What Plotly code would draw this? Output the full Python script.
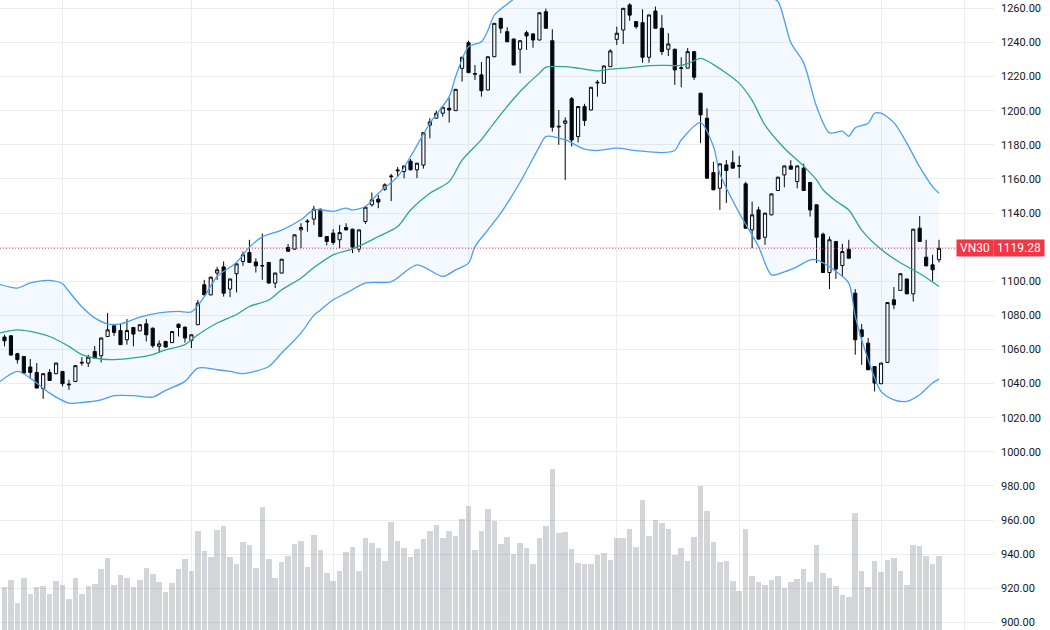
import plotly.graph_objects as go

# ---------------- data ----------------
idx = list(range(146))

opens = [1067.3,1068.0,1057.5,1055.9,1049.7,1046.5,1037.0,1046.5,1045.8,1047.1,
         1039.2,1041.2,1052.0,1052.0,1058.8,1056.3,1067.6,1073.9,1071.1,1065.7,
         1072.9,1070.9,1075.0,1072.5,1061.8,1064.7,1064.0,1074.8,1073.1,1065.3,
         1074.5,1097.9,1092.0,1104.8,1108.4,1095.4,1104.4,1111.6,1116.8,1111.3,
         1109.2,1111.0,1098.9,1104.8,1119.8,1118.8,1130.1,1134.8,1136.4,1142.2,
         1126.2,1128.2,1124.3,1131.5,1130.5,1118.8,1135.0,1144.8,1148.1,1153.9,
         1161.2,1164.7,1164.3,1170.4,1165.3,1168.1,1191.5,1195.6,1198.5,1201.4,
         1200.0,1224.8,1239.8,1221.3,1221.0,1212.1,1231.6,1254.1,1246.3,1242.0,
         1236.0,1245.7,1245.0,1241.4,1258.0,1241.0,1190.4,1192.6,1207.0,1184.8,
         1202.4,1200.4,1216.2,1216.1,1225.8,1241.8,1247.3,1262.0,1252.2,1251.6,
         1231.3,1258.4,1248.3,1236.0,1236.0,1224.7,1224.9,1234.6,1210.2,1195.6,
         1163.7,1154.5,1168.2,1169.5,1167.4,1157.1,1130.1,1141.8,1125.8,1138.9,
         1153.2,1162.3,1167.6,1158.4,1166.3,1157.9,1144.8,1127.6,1105.1,1123.3,
         1109.2,1118.8,1093.0,1071.5,1063.7,1050.0,1039.9,1052.4,1089.1,1094.6,
         1101.3,1092.6,1131.1,1114.1,1109.6,1112.6]
highs = [1068.6,1068.5,1058.0,1056.2,1054.4,1052.0,1046.0,1048.5,1052.2,1047.4,
         1042.2,1050.7,1055.5,1056.9,1062.0,1067.0,1081.3,1074.2,1075.0,1077.8,
         1073.2,1074.8,1077.8,1072.8,1065.3,1065.0,1070.8,1075.2,1073.4,1068.8,
         1089.0,1100.8,1102.6,1108.4,1111.6,1101.5,1110.4,1117.4,1124.3,1113.5,
         1128.0,1111.3,1105.0,1113.1,1121.8,1127.4,1134.0,1136.4,1144.2,1142.5,
         1126.5,1130.5,1133.0,1134.0,1130.8,1130.3,1143.6,1152.0,1150.6,1157.4,
         1162.9,1166.9,1167.8,1171.6,1169.4,1187.3,1195.6,1200.0,1202.2,1207.3,
         1212.7,1231.5,1241.0,1226.8,1228.5,1231.8,1251.4,1254.4,1248.9,1242.3,
         1241.2,1246.9,1245.3,1257.6,1259.8,1247.7,1200.4,1196.1,1208.0,1202.6,
         1204.0,1213.9,1218.0,1226.4,1236.0,1249.2,1260.2,1263.0,1252.5,1259.4,
         1256.3,1261.0,1256.1,1245.4,1236.3,1231.3,1236.7,1234.9,1210.5,1201.4,
         1170.0,1169.0,1171.1,1176.6,1173.5,1158.3,1146.7,1143.7,1140.1,1151.4,
         1161.2,1167.8,1171.0,1167.8,1168.9,1158.2,1145.0,1128.5,1126.2,1123.6,
         1121.9,1124.3,1095.4,1075.0,1066.7,1050.3,1052.2,1087.7,1096.6,1104.6,
         1101.6,1130.7,1138.3,1124.3,1115.5,1124.3]
lows = [1061.8,1056.5,1051.7,1046.0,1042.7,1037.2,1031.0,1041.5,1045.5,1038.3,
        1036.3,1041.0,1050.5,1049.7,1054.8,1052.4,1067.4,1068.0,1062.6,1062.8,
        1061.8,1070.7,1064.7,1061.0,1058.3,1061.2,1063.8,1067.6,1064.0,1060.8,
        1074.3,1091.8,1091.8,1100.8,1091.0,1090.7,1093.4,1109.0,1110.8,1105.1,
        1100.8,1098.7,1096.0,1104.6,1117.3,1118.6,1119.4,1129.1,1133.0,1126.0,
        1121.0,1121.3,1119.4,1129.8,1116.5,1117.0,1133.6,1143.8,1142.8,1153.0,
        1147.0,1161.3,1160.4,1165.0,1160.4,1166.0,1183.8,1195.4,1196.5,1193.0,
        1199.8,1217.0,1222.0,1218.0,1208.2,1211.9,1231.4,1245.4,1240.2,1226.6,
        1221.9,1235.6,1236.9,1241.2,1248.1,1187.7,1180.0,1159.4,1179.0,1181.3,
        1191.0,1200.2,1208.2,1215.9,1225.6,1238.5,1239.1,1252.7,1248.0,1228.1,
        1228.1,1248.1,1232.6,1232.0,1215.1,1213.7,1224.7,1218.0,1180.9,1160.2,
        1153.4,1141.8,1145.8,1166.1,1160.4,1130.9,1119.4,1124.5,1121.3,1138.7,
        1153.0,1155.1,1165.5,1154.5,1153.0,1137.9,1110.6,1104.9,1095.4,1101.4,
        1102.8,1113.3,1056.9,1051.0,1047.9,1035.4,1039.7,1052.2,1083.6,1094.4,
        1092.4,1088.1,1123.1,1108.8,1100.2,1111.0]
closes = [1065.1,1056.7,1054.0,1046.2,1046.5,1037.4,1045.8,1041.8,1052.0,1039.9,
          1039.6,1050.5,1052.4,1055.5,1055.0,1066.7,1071.5,1070.0,1062.8,1071.1,
          1069.0,1074.5,1068.6,1062.2,1063.3,1061.4,1070.5,1072.9,1066.7,1068.6,
          1087.2,1092.0,1102.4,1106.7,1093.0,1101.3,1110.2,1115.5,1111.0,1109.0,
          1109.0,1098.9,1104.8,1112.9,1117.6,1127.2,1131.5,1135.2,1142.2,1126.2,
          1123.3,1122.7,1128.5,1130.1,1120.0,1130.1,1143.4,1147.7,1146.4,1156.5,
          1161.6,1165.1,1167.6,1165.3,1169.2,1187.1,1193.4,1198.5,1202.0,1200.4,
          1212.5,1231.3,1222.3,1221.7,1211.7,1231.6,1251.2,1248.3,1240.4,1226.8,
          1241.0,1243.8,1241.4,1257.4,1248.3,1190.3,1190.8,1194.0,1182.8,1202.4,
          1194.2,1213.7,1216.6,1226.2,1235.0,1245.4,1260.0,1256.0,1249.2,1231.3,
          1256.1,1248.3,1234.6,1239.1,1223.9,1225.1,1234.6,1219.6,1197.5,1160.4,
          1153.6,1168.8,1164.9,1166.3,1167.8,1131.1,1138.9,1124.7,1139.9,1151.2,
          1161.0,1167.6,1165.7,1167.6,1153.2,1141.8,1125.8,1105.1,1124.3,1107.1,
          1117.4,1113.5,1065.7,1067.6,1048.1,1040.3,1052.0,1087.5,1086.2,1104.4,
          1092.6,1130.5,1123.3,1109.0,1106.7,1119.28]
volume = [87,101,55,105,72,86,88,72,99,90,
          62,105,72,88,92,123,144,90,111,105,
          86,101,125,113,97,76,95,123,143,118,
          198,159,146,200,209,146,132,176,170,125,
          246,142,105,136,148,172,179,127,190,161,
          115,99,119,157,167,119,184,174,165,138,
          216,179,165,146,163,182,199,211,184,198,
          189,223,249,161,199,243,219,173,187,153,
          175,165,133,184,209,322,195,197,163,134,
          132,133,150,155,140,185,185,203,167,261,
          189,220,215,203,151,165,138,187,289,239,
          177,136,138,98,79,203,109,96,91,100,
          109,84,96,102,122,96,170,115,105,88,
          70,66,234,118,87,138,116,140,145,118,
          90,170,168,148,132,148]

# Bollinger bands, read at sample candle indices
upper_i = [-1,2,4,7,9,10,12,14,16,18,21,24,27,29,31,33,36,38,40,43,46,48,51,53,54,56,58,61,63,66,
           69,70,72,74,75,76,78,80,84,90,95,100,105,110,115,118,120,121,122,124,126,128,130,131,
           132,134,135,136,138,140,142,144,145]
upper_v = [1098.5,1096.0,1099.0,1100.5,1098.5,1094.0,1085.0,1078.5,1075.0,1075.0,1079.0,1081.5,
           1082.3,1082.0,1091.0,1102.8,1111.0,1120.0,1126.0,1130.0,1136.0,1141.8,1141.0,1142.8,
           1141.8,1143.8,1151.6,1161.3,1173.0,1192.6,1208.2,1220.0,1237.5,1240.4,1247.0,1256.0,
           1262.5,1268.0,1278.0,1290.0,1294.0,1296.0,1293.0,1285.0,1276.0,1268.0,1264.0,1253.0,
           1240.0,1228.0,1202.4,1187.0,1188.0,1185.0,1190.0,1192.6,1198.5,1198.5,1193.0,1181.0,
           1167.0,1155.5,1151.6]
mid_i = [-1,2,4,7,10,12,15,17,20,23,25,28,30,33,36,38,41,43,46,48,51,54,56,58,61,63,66,69,71,74,
         76,79,81,83,84,87,89,92,94,97,100,103,105,106,108,110,114,116,118,121,124,126,127,129,
         131,133,136,139,142,144,145]
mid_v = [1069.5,1071.5,1070.6,1067.6,1061.8,1057.0,1054.4,1054.0,1055.0,1057.0,1059.8,1062.8,
         1068.6,1075.5,1080.5,1085.2,1089.0,1095.0,1101.8,1108.0,1115.5,1119.0,1122.3,1126.2,
         1132.1,1141.8,1151.6,1158.4,1171.0,1183.0,1193.0,1207.0,1215.0,1222.0,1225.5,1225.8,
         1224.9,1223.3,1224.3,1225.2,1226.4,1226.5,1226.5,1227.5,1230.7,1227.0,1216.0,1206.0,
         1191.5,1178.0,1167.5,1159.4,1153.6,1147.0,1141.8,1130.0,1118.7,1110.8,1104.5,1099.5,
         1096.9]
lower_i = [-1,2,4,7,10,12,15,17,20,23,25,28,30,33,35,37,41,43,46,48,49,51,53,56,60,64,68,70,72,
           73,75,77,80,83,84,87,90,92,95,98,102,104,105,108,110,111,114,117,119,121,123,125,126,
           129,131,132,134,136,138,140,142,144,145]
lower_v = [1040.3,1047.1,1043.2,1034.4,1028.6,1028.9,1030.5,1032.9,1032.9,1032.1,1036.0,1041.3,
           1049.1,1048.1,1047.1,1045.8,1050.0,1057.9,1069.6,1080.0,1083.0,1089.1,1093.0,1098.9,
           1099.8,1109.6,1102.8,1106.7,1110.6,1120.3,1130.1,1139.9,1158.0,1178.9,1184.8,1182.8,
           1177.4,1176.6,1178.0,1176.6,1175.4,1176.6,1182.8,1193.0,1179.0,1163.0,1140.0,1120.3,
           1103.7,1105.5,1108.6,1112.5,1112.5,1105.7,1098.9,1079.3,1054.0,1035.4,1030.5,1029.6,
           1033.5,1040.3,1042.6]

price_ticks = [900 + 20 * k for k in range(19)]
symbol = "VN30"
last_price = 1119.28
# the 1120 label is hidden under the last-price tag in the reference
price_labels = ["" if abs(t - last_price) < 8 else f"{t:.2f}" for t in price_ticks]
month_grid = [9, 29, 51, 72, 95, 114, 136, 149]

# ---------------- figure ----------------
band_blue = "#4A9FF5"
mid_green = "#2BA794"
tag_red = "#F23645"

fig = go.Figure()
fig.add_trace(go.Scatter(x=upper_i, y=upper_v, mode="lines",
                         line=dict(color=band_blue, width=1.3, shape="spline", smoothing=0.8),
                         hoverinfo="skip", showlegend=False))
fig.add_trace(go.Scatter(x=lower_i, y=lower_v, mode="lines", fill="tonexty",
                         fillcolor="rgba(33,150,243,0.055)",
                         line=dict(color=band_blue, width=1.3, shape="spline", smoothing=0.8),
                         hoverinfo="skip", showlegend=False))
fig.add_trace(go.Scatter(x=mid_i, y=mid_v, mode="lines",
                         line=dict(color=mid_green, width=1.3, shape="spline", smoothing=0.8),
                         hoverinfo="skip", showlegend=False))
fig.add_trace(go.Candlestick(x=idx, open=opens, high=highs, low=lows, close=closes,
                             increasing=dict(line=dict(color="#000000", width=1), fillcolor="#ffffff"),
                             decreasing=dict(line=dict(color="#000000", width=1), fillcolor="#000000"),
                             whiskerwidth=0, showlegend=False))
fig.add_trace(go.Bar(x=idx, y=volume, yaxis="y2", width=0.86,
                     marker=dict(color="rgba(125,128,140,0.33)", line=dict(width=0)),
                     hoverinfo="skip", showlegend=False))

fig.add_shape(type="line", xref="paper", x0=0, x1=1, yref="y", y0=last_price, y1=last_price,
              line=dict(color="rgba(242,54,69,0.85)", width=1, dash="1px,2px"))

fig.add_annotation(xref="paper", x=975/994, yref="y", y=last_price, text=symbol,
                   showarrow=False, bgcolor=tag_red, width=36, height=16, borderpad=0,
                   font=dict(color="white", size=12, family="Roboto"), xanchor="center", yanchor="middle")
fig.add_annotation(xref="paper", x=1019.5/994, yref="y", y=last_price, text=f"{last_price:.2f}",
                   showarrow=False, bgcolor=tag_red, width=50, height=16, borderpad=0,
                   font=dict(color="white", size=12, family="Roboto"), xanchor="center", yanchor="middle")

fig.update_layout(
    width=1050, height=630,
    margin=dict(l=0, r=56, t=0, b=0),
    paper_bgcolor="white", plot_bgcolor="white",
    showlegend=False, bargap=0,
    font=dict(family="Roboto", size=11, color="#131722"),
    xaxis=dict(range=[-0.698, 153.53], tickvals=month_grid, showticklabels=False,
               showgrid=True, gridcolor="#EBECF0", gridwidth=1, zeroline=False,
               showline=False, ticks="", rangeslider=dict(visible=False), fixedrange=True),
    yaxis=dict(range=[895.53, 1264.87], side="right", tickvals=price_ticks, ticktext=price_labels,
               showgrid=True, gridcolor="#EBECF0", gridwidth=1,
               zeroline=False, showline=False, ticks="", ticklabelstandoff=6,
               tickfont=dict(family="Roboto", size=11, color="#131722")),
    yaxis2=dict(range=[0, 1260], overlaying="y", visible=False, fixedrange=True),
)

fig.write_html("out.html")
